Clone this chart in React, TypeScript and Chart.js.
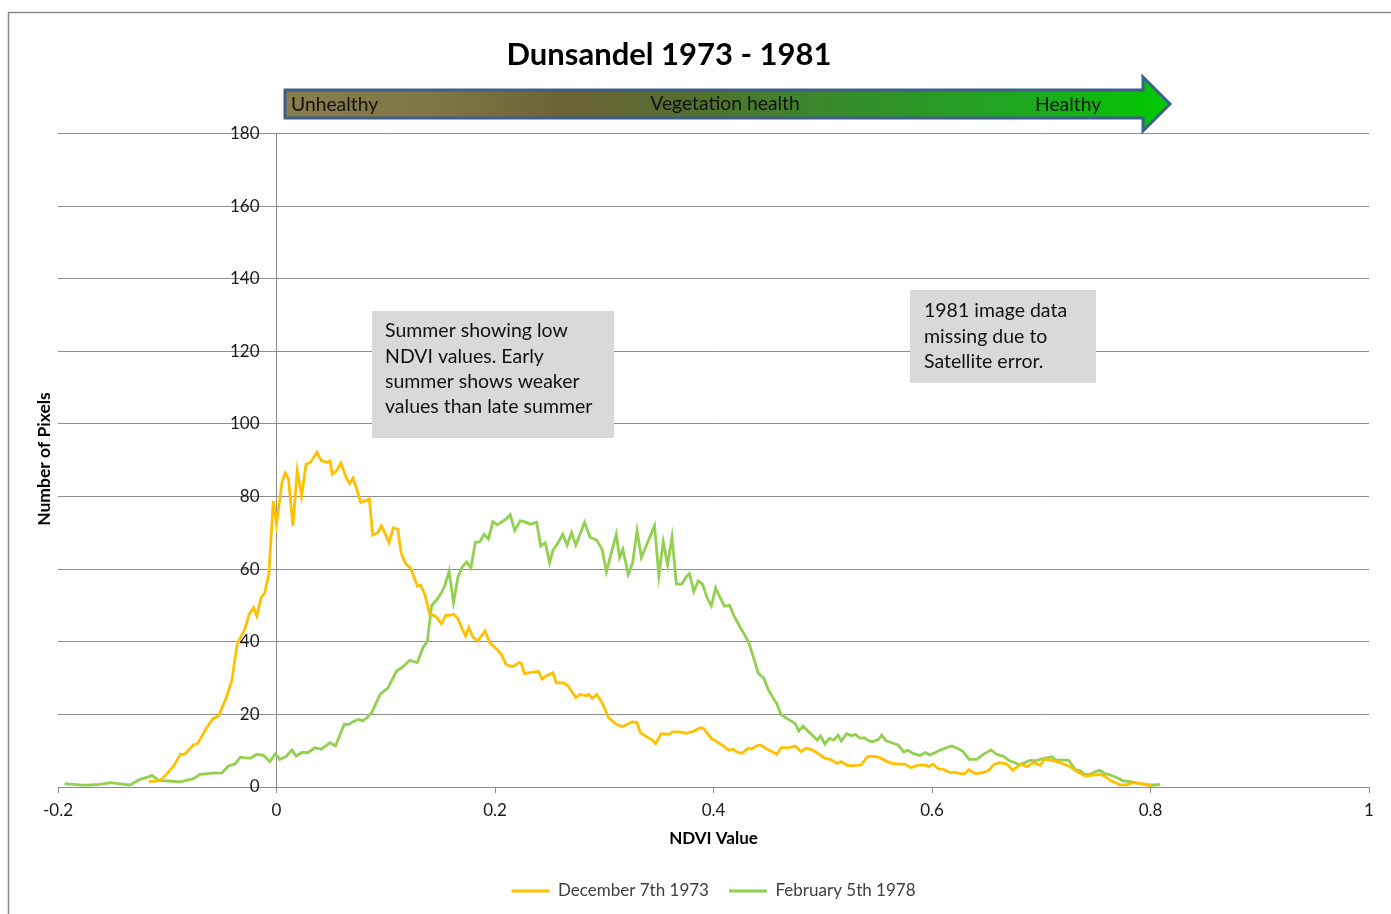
import React, { useEffect, useRef } from "react";
import { Chart, registerables } from "chart.js";

Chart.register(...registerables);

const chartTitle = "Dunsandel 1973 - 1981";
const xAxisTitle = "NDVI Value";
const yAxisTitle = "Number of Pixels";
const seriesNames = ["December 7th 1973", "February 5th 1978"];
const seriesColors = ["#FFC000", "#92D050"];
const xTicks = [-0.2, 0, 0.2, 0.4, 0.6, 0.8, 1];
const yTicks = [0, 20, 40, 60, 80, 100, 120, 140, 160, 180];
const arrowLabels = ["Unhealthy", "Vegetation health", "Healthy"];
const noteSummer = ["Summer showing low", "NDVI values. Early", "summer shows weaker", "values than late summer"];
const noteMissing = ["1981 image data", "missing due to", "Satellite error."];

// December 7th 1973
const decNdvi = [
  -0.117, -0.111, -0.105, -0.094, -0.088, -0.084, -0.076, -0.072, -0.064, -0.058,
  -0.053, -0.046, -0.041, -0.036, -0.033, -0.029, -0.025, -0.021, -0.018, -0.014,
  -0.011, -0.007, -0.003, 0.0, 0.005, 0.008, 0.011, 0.015, 0.019, 0.023,
  0.027, 0.031, 0.037, 0.041, 0.046, 0.049, 0.051, 0.055, 0.059, 0.064,
  0.067, 0.070, 0.073, 0.077, 0.081, 0.085, 0.088, 0.093, 0.096, 0.099,
  0.103, 0.107, 0.111, 0.114, 0.118, 0.123, 0.129, 0.132, 0.136, 0.140,
  0.146, 0.151, 0.155, 0.159, 0.162, 0.166, 0.170, 0.173, 0.176, 0.180,
  0.184, 0.191, 0.195, 0.202, 0.206, 0.210, 0.214, 0.217, 0.222, 0.224,
  0.227, 0.233, 0.240, 0.243, 0.247, 0.253, 0.256, 0.263, 0.267, 0.274,
  0.278, 0.283, 0.286, 0.289, 0.293, 0.298, 0.304, 0.311, 0.317, 0.322,
  0.326, 0.330, 0.333, 0.339, 0.344, 0.347, 0.352, 0.359, 0.363, 0.369,
  0.375, 0.382, 0.388, 0.391, 0.398, 0.403, 0.409, 0.414, 0.418, 0.421,
  0.426, 0.432, 0.435, 0.439, 0.443, 0.449, 0.454, 0.458, 0.462, 0.468,
  0.475, 0.480, 0.485, 0.491, 0.497, 0.502, 0.507, 0.513, 0.517, 0.522,
  0.527, 0.533, 0.535, 0.541, 0.546, 0.552, 0.559, 0.565, 0.571, 0.575,
  0.581, 0.587, 0.594, 0.597, 0.601, 0.606, 0.610, 0.617, 0.621, 0.626,
  0.630, 0.634, 0.638, 0.641, 0.647, 0.652, 0.657, 0.662, 0.668, 0.674,
  0.681, 0.687, 0.693, 0.699, 0.703, 0.710, 0.717, 0.725, 0.732, 0.740,
  0.748, 0.754, 0.758, 0.764, 0.772, 0.778, 0.784, 0.792, 0.798, 0.801,
];
const decPixels = [
  1.5, 1.6, 2.1, 5.8, 9.0, 9.0, 11.6, 12.0, 16.3, 18.9,
  19.6, 24.6, 29.2, 39.3, 41.2, 43.5, 47.6, 49.4, 47.1, 52.2,
  53.3, 58.6, 78.8, 72.4, 83.9, 86.5, 84.8, 71.9, 87.1, 80.2,
  88.9, 89.4, 92.2, 89.9, 89.4, 89.9, 86.1, 87.1, 89.3, 85.1,
  83.6, 85.1, 82.5, 78.4, 78.8, 79.3, 69.4, 70.1, 71.9, 70.1,
  67.3, 71.4, 71.0, 64.6, 61.6, 60.2, 55.3, 55.6, 52.8, 47.8,
  46.9, 45.0, 47.3, 47.3, 47.6, 46.4, 43.5, 41.6, 43.9, 41.2,
  40.2, 43.0, 39.8, 37.9, 36.4, 33.8, 33.2, 33.2, 34.3, 34.1,
  31.2, 31.6, 31.8, 29.7, 30.6, 31.5, 28.7, 28.7, 27.8, 24.6,
  25.5, 25.1, 25.5, 24.4, 25.5, 23.2, 19.1, 17.3, 16.6, 17.4,
  18.0, 17.7, 15.0, 13.8, 12.9, 11.9, 14.7, 14.5, 15.2, 15.2,
  14.8, 15.4, 16.3, 16.1, 13.4, 12.5, 11.3, 10.1, 10.4, 9.7,
  9.3, 10.7, 10.4, 11.3, 11.6, 10.4, 9.7, 9.0, 10.9, 10.8,
  11.3, 9.7, 10.7, 10.1, 9.0, 7.9, 7.6, 6.5, 7.0, 6.0,
  5.8, 6.0, 6.1, 8.3, 8.5, 8.1, 7.0, 6.4, 6.3, 6.3,
  5.3, 6.0, 6.0, 5.6, 6.3, 5.0, 4.9, 3.9, 4.1, 3.7,
  3.7, 4.8, 3.9, 3.7, 4.0, 4.6, 6.3, 6.7, 6.4, 4.6,
  6.3, 5.6, 6.7, 6.0, 7.6, 7.3, 6.7, 5.8, 4.4, 3.0,
  3.3, 3.5, 3.0, 1.7, 0.6, 0.6, 1.2, 0.9, 0.5, 0.4,
];

// February 5th 1978
const febNdvi = [
  -0.194, -0.186, -0.178, -0.171, -0.162, -0.152, -0.145, -0.134, -0.125, -0.119,
  -0.114, -0.108, -0.099, -0.088, -0.076, -0.070, -0.058, -0.050, -0.044, -0.038,
  -0.033, -0.024, -0.018, -0.012, -0.006, -0.001, 0.003, 0.009, 0.014, 0.018,
  0.023, 0.029, 0.035, 0.041, 0.049, 0.054, 0.062, 0.066, 0.070, 0.075,
  0.079, 0.083, 0.087, 0.095, 0.102, 0.110, 0.115, 0.122, 0.129, 0.134,
  0.138, 0.142, 0.147, 0.151, 0.154, 0.158, 0.162, 0.166, 0.170, 0.174,
  0.178, 0.182, 0.186, 0.190, 0.194, 0.198, 0.202, 0.207, 0.210, 0.214,
  0.218, 0.223, 0.227, 0.232, 0.238, 0.242, 0.246, 0.250, 0.253, 0.257,
  0.262, 0.266, 0.270, 0.274, 0.282, 0.287, 0.293, 0.298, 0.302, 0.311,
  0.314, 0.317, 0.322, 0.326, 0.330, 0.334, 0.346, 0.350, 0.354, 0.358,
  0.362, 0.366, 0.371, 0.375, 0.378, 0.382, 0.386, 0.390, 0.394, 0.398,
  0.402, 0.406, 0.410, 0.415, 0.418, 0.424, 0.432, 0.436, 0.441, 0.446,
  0.450, 0.455, 0.458, 0.462, 0.467, 0.472, 0.475, 0.478, 0.482, 0.487,
  0.491, 0.495, 0.498, 0.502, 0.506, 0.510, 0.514, 0.517, 0.522, 0.526,
  0.530, 0.534, 0.538, 0.542, 0.546, 0.551, 0.554, 0.558, 0.563, 0.569,
  0.574, 0.578, 0.583, 0.589, 0.594, 0.598, 0.603, 0.607, 0.613, 0.618,
  0.623, 0.628, 0.634, 0.641, 0.647, 0.654, 0.659, 0.665, 0.671, 0.676,
  0.680, 0.685, 0.690, 0.694, 0.699, 0.703, 0.710, 0.713, 0.719, 0.725,
  0.731, 0.736, 0.740, 0.745, 0.749, 0.754, 0.758, 0.763, 0.769, 0.775,
  0.783, 0.790, 0.798, 0.804, 0.809,
];
const febPixels = [
  0.9, 0.7, 0.5, 0.55, 0.7, 1.2, 0.9, 0.55, 2.1, 2.6,
  3.2, 1.8, 1.65, 1.4, 2.3, 3.5, 3.8, 3.9, 5.8, 6.3,
  8.2, 7.9, 9.0, 8.7, 7.0, 9.2, 7.6, 8.5, 10.2, 8.5,
  9.5, 9.5, 10.8, 10.4, 12.2, 11.3, 17.3, 17.2, 18.0, 18.6,
  18.2, 19.1, 20.4, 25.6, 27.3, 32.0, 32.9, 34.9, 34.3, 38.4,
  40.1, 50.0, 51.7, 53.5, 55.5, 59.5, 50.8, 57.7, 60.6, 62.0,
  60.4, 67.4, 67.5, 69.6, 68.3, 73.1, 72.2, 73.2, 73.8, 75.0,
  70.6, 73.3, 73.1, 72.4, 72.9, 66.4, 67.3, 61.7, 65.2, 66.9,
  69.6, 66.6, 70.1, 66.6, 72.9, 68.8, 68.0, 65.5, 59.3, 69.6,
  63.2, 65.5, 58.6, 61.8, 70.6, 63.2, 72.0, 58.2, 67.5, 61.2,
  68.8, 55.9, 55.9, 57.9, 58.8, 53.8, 56.8, 55.9, 52.2, 49.9,
  54.8, 52.2, 49.8, 50.0, 47.6, 44.2, 40.0, 36.3, 31.3, 30.0,
  26.9, 24.3, 22.9, 19.9, 18.9, 18.0, 17.4, 15.4, 16.8, 15.2,
  14.1, 12.9, 14.1, 11.8, 13.4, 12.9, 14.3, 12.7, 14.7, 14.1,
  14.5, 13.4, 13.6, 12.7, 12.5, 13.1, 14.3, 12.7, 12.2, 11.6,
  9.7, 10.1, 9.2, 8.7, 9.5, 8.8, 9.5, 10.1, 10.8, 11.3,
  10.7, 9.9, 7.6, 7.6, 9.0, 10.2, 9.0, 8.5, 7.2, 6.7,
  6.1, 6.7, 7.4, 7.2, 7.6, 7.9, 8.3, 7.4, 7.4, 7.4,
  4.9, 4.4, 3.5, 3.5, 4.2, 4.6, 3.7, 3.3, 2.6, 1.7,
  1.4, 0.9, 0.55, 0.55, 0.75,
];

const FONT = 'Lato, "Noto Sans", sans-serif';
const TEXT = "#1a1a1a";
const GRID = "#8c8c8c";

const decorPlugin = {
  id: "decor",
  beforeDraw(chart: any) {
    const ctx = chart.ctx;
    ctx.save();
    ctx.fillStyle = "#ffffff";
    ctx.fillRect(0, 0, chart.width, chart.height);
    ctx.strokeStyle = "#8a8a8a";
    ctx.lineWidth = 1.5;
    ctx.strokeRect(8.5, 12.5, chart.width + 60, chart.height + 60);
    ctx.restore();
  },
  afterDraw(chart: any) {
    const ctx = chart.ctx;
    ctx.save();

    // y tick labels, placed left of the y axis that crosses at x = 0
    const xs = chart.scales.x;
    const ys = chart.scales.y;
    const axisX = xs.getPixelForValue(0);
    ctx.font = `17px ${FONT}`;
    ctx.fillStyle = TEXT;
    ctx.textAlign = "right";
    ctx.textBaseline = "middle";
    yTicks.forEach((v) => ctx.fillText(String(v), axisX - 17, ys.getPixelForValue(v)));

    // title
    ctx.fillStyle = "#000000";
    ctx.font = `bold 31px ${FONT}`;
    ctx.textAlign = "center";
    ctx.textBaseline = "middle";
    ctx.fillText(chartTitle, 669, 55);

    // arrow
    const x0 = 285, neck = 1143, tip = 1170, top = 90, bot = 118, hTop = 77, hBot = 131, mid = 104;
    const grad = ctx.createLinearGradient(x0, 0, tip, 0);
    grad.addColorStop(0, "#8a7e4e");
    grad.addColorStop(0.18, "#7e7444");
    grad.addColorStop(0.32, "#6b6136");
    grad.addColorStop(0.45, "#556e30");
    grad.addColorStop(0.65, "#348e2a");
    grad.addColorStop(0.85, "#1caa1e");
    grad.addColorStop(1, "#00c800");
    ctx.beginPath();
    ctx.moveTo(x0, top);
    ctx.lineTo(neck, top);
    ctx.lineTo(neck, hTop);
    ctx.lineTo(tip, mid);
    ctx.lineTo(neck, hBot);
    ctx.lineTo(neck, bot);
    ctx.lineTo(x0, bot);
    ctx.closePath();
    ctx.fillStyle = grad;
    ctx.fill();
    ctx.strokeStyle = "#3e5f8a";
    ctx.lineWidth = 3;
    ctx.lineJoin = "miter";
    ctx.stroke();

    ctx.font = `19.3px ${FONT}`;
    ctx.fillStyle = "#111111";
    ctx.textBaseline = "middle";
    ctx.textAlign = "left";
    ctx.fillText(arrowLabels[0], 291, 105);
    ctx.textAlign = "center";
    ctx.fillText(arrowLabels[1], 725, 104);
    ctx.textAlign = "left";
    ctx.fillText(arrowLabels[2], 1035, 105);

    // notes
    const drawNote = (lines: string[], bx: number, by: number, bw: number, bh: number, tx: number, ty: number) => {
      ctx.fillStyle = "#d9d9d9";
      ctx.fillRect(bx, by, bw, bh);
      ctx.fillStyle = "#111111";
      ctx.font = `19.5px ${FONT}`;
      ctx.textAlign = "left";
      ctx.textBaseline = "middle";
      lines.forEach((l, i) => ctx.fillText(l, tx, ty + i * 25.3));
    };
    drawNote(noteSummer, 372, 311, 242, 127, 385, 331);
    drawNote(noteMissing, 910, 290, 186, 93, 924, 311);

    // y axis title
    ctx.save();
    ctx.translate(44, 459);
    ctx.rotate(-Math.PI / 2);
    ctx.font = `bold 17.5px ${FONT}`;
    ctx.fillStyle = "#000000";
    ctx.textAlign = "center";
    ctx.textBaseline = "middle";
    ctx.fillText(yAxisTitle, 0, 0);
    ctx.restore();

    ctx.restore();
  },
};

export default function App() {
  const ref = useRef<HTMLCanvasElement | null>(null);

  useEffect(() => {
    if (!ref.current) return;
    Chart.defaults.font.family = FONT;
    const chart = new Chart(ref.current, {
      type: "line",
      data: {
        datasets: [
          {
            label: seriesNames[0],
            data: decNdvi.map((x, i) => ({ x, y: decPixels[i] })),
            borderColor: seriesColors[0],
            backgroundColor: seriesColors[0],
            borderWidth: 2.8,
            pointRadius: 0,
            tension: 0,
          },
          {
            label: seriesNames[1],
            data: febNdvi.map((x, i) => ({ x, y: febPixels[i] })),
            borderColor: seriesColors[1],
            backgroundColor: seriesColors[1],
            borderWidth: 2.8,
            pointRadius: 0,
            tension: 0,
          },
        ],
      },
      options: {
        responsive: false,
        animation: false,
        devicePixelRatio: 1,
        layout: { padding: { left: 58, right: 22, top: 133.5, bottom: 4.5 } },
        plugins: {
          tooltip: { enabled: false },
          title: { display: false },
          legend: {
            position: "bottom",
            labels: {
              usePointStyle: true,
              pointStyle: "line",
              pointStyleWidth: 38,
              padding: 20,
              color: "#404040",
              font: { size: 17, family: FONT },
            },
          },
        },
        scales: {
          x: {
            type: "linear",
            position: "bottom",
            min: -0.2,
            max: 1,
            afterBuildTicks: (s: any) => {
              s.ticks = xTicks.map((v) => ({ value: v }));
            },
            afterFit: (s: any) => {
              s.height = 75.5;
            },
            ticks: {
              padding: 7,
              color: TEXT,
              font: { size: 17, family: FONT },
              callback: (v: any) => String(Number(Number(v).toFixed(1))),
            },
            grid: { drawOnChartArea: false, drawTicks: true, tickLength: 6, color: GRID },
            border: { display: true, color: GRID, width: 1 },
            title: {
              display: true,
              text: xAxisTitle,
              color: "#000000",
              font: { size: 17, weight: "bold", family: FONT },
              padding: { top: 0, bottom: 13.3 },
            },
          },
          y: {
            type: "linear",
            position: { x: 0 } as any,
            min: 0,
            max: 180,
            afterBuildTicks: (s: any) => {
              s.ticks = yTicks.map((v) => ({ value: v }));
            },
            ticks: { display: false },
            grid: { color: GRID, lineWidth: 1, drawTicks: false },
            border: { display: true, color: GRID, width: 1 },
          },
        },
      } as any,
      plugins: [decorPlugin],
    });
    return () => chart.destroy();
  }, []);

  return (
    <div style={{ position: "fixed", left: 0, top: 0, width: 1391, height: 914, background: "#fff" }}>
      <canvas ref={ref} width={1391} height={914} style={{ display: "block", width: 1391, height: 914 }} />
    </div>
  );
}
